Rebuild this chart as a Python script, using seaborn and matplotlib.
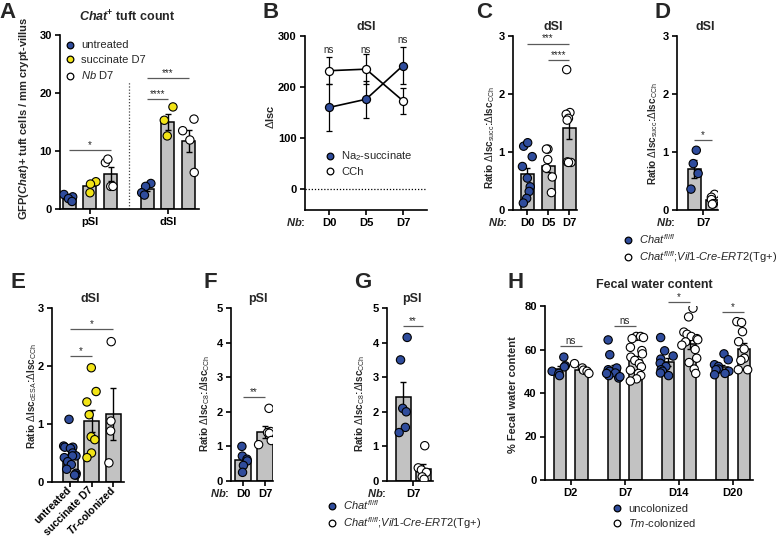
import numpy as np
import pandas as pd
import seaborn as sns
import matplotlib.pyplot as plt
from matplotlib.lines import Line2D

sns.set_theme(style="ticks")
plt.rcParams.update({
    "font.family": ["Liberation Sans", "DejaVu Sans"],
    "font.weight": "bold",
    "font.size": 8,
    "mathtext.fontset": "custom",
    "mathtext.rm": "Liberation Sans:normal",
    "mathtext.it": "Liberation Sans:italic:normal",
    "mathtext.bf": "Liberation Sans:bold",
    "mathtext.bfit": "Liberation Sans:italic:bold",
    "axes.linewidth": 1.2,
    "axes.edgecolor": "black",
    "xtick.color": "black", "ytick.color": "black",
    "xtick.major.width": 1.2, "ytick.major.width": 1.2,
    "xtick.major.size": 3.5, "ytick.major.size": 3.5,
    "xtick.major.pad": 2.5, "ytick.major.pad": 2.5,
    "xtick.labelsize": 8, "ytick.labelsize": 8,
})
np.random.seed(7)  # reproducible strip jitter

BLUE = "#2f4c9c"
YELLOW = "#f2e416"
WHITE = "#ffffff"
GRAY = "#c2c2c2"
PT = 6.0

# ===== data =====
# A  Chat+ tuft count
a_regions = ["pSI", "dSI"]
a_groups = ["untreated", "succinate D7", "Nb D7"]
a_labels = ["untreated", "succinate D7", r"$\mathit{Nb}$ D7"]
a_mean_psi = [1.7, 3.9, 6.0]
a_mean_dsi = [3.5, 15.0, 11.7]
a_sem_psi = [0.25, 0.55, 1.25]
a_sem_dsi = [0.45, 1.45, 1.95]
a_pts_psi = {"untreated": [2.5, 2.1, 1.8, 1.3], "succinate D7": [4.7, 4.3, 2.8],
             "Nb D7": [8.0, 8.6, 3.9, 3.9]}
a_pts_dsi = {"untreated": [4.4, 3.9, 2.8, 2.4], "succinate D7": [17.6, 15.3, 12.6],
             "Nb D7": [15.5, 13.5, 11.9, 6.3]}

# B  dSI delta Isc
b_days = ["D0", "D5", "D7"]
b_succ = [160, 176, 242]
b_succ_sem = [46, 36, 37]
b_cch = [232, 235, 173]
b_cch_sem = [27, 29, 25]

# C  dSI ratio succ:CCh
c_days = ["D0", "D5", "D7"]
c_mean = [0.62, 0.76, 1.42]
c_sem = [0.11, 0.11, 0.20]
c_pts = {"D0": [1.10, 1.16, 0.92, 0.75, 0.55, 0.40, 0.32, 0.20, 0.12],
         "D5": [1.05, 1.05, 0.87, 0.72, 0.57, 0.30],
         "D7": [2.42, 1.68, 1.65, 1.58, 1.55, 0.82, 0.83, 0.82]}

# D  dSI genotype
geno = [r"$\mathit{Chat}^{\mathit{fl/fl}}$",
        r"$\mathit{Chat}^{\mathit{fl/fl}}$;$\mathit{Vil1}$-$\mathit{Cre}$-$\mathit{ERT2}$(Tg+)"]
d_mean = [0.71, 0.17]
d_sem = [0.15, 0.04]
d_pts = [[1.03, 0.80, 0.63, 0.36], [0.27, 0.22, 0.18, 0.11, 0.10]]

# E  dSI ratio cESA:CCh
e_groups = ["untreated", "succinate D7", "Tr-colonized"]
e_ticks = ["untreated", "succinate D7", r"$\mathbfit{Tr}$-colonized"]
e_mean = [0.42, 1.06, 1.17]
e_sem = [0.07, 0.19, 0.45]
e_pts = {"untreated": [1.08, 0.62, 0.60, 0.60, 0.58, 0.50, 0.45, 0.45, 0.42, 0.35, 0.30, 0.22, 0.15, 0.12, 0.12],
         "succinate D7": [1.97, 1.56, 1.38, 1.16, 0.78, 0.73, 0.50, 0.42],
         "Tr-colonized": [2.42, 1.05, 0.88, 0.33]}

# F  pSI ratio C8:CCh
f_days = ["D0", "D7"]
f_mean = [0.60, 1.42]
f_sem = [0.11, 0.17]
f_pts = {"D0": [1.00, 0.72, 0.63, 0.58, 0.45, 0.25], "D7": [2.10, 1.43, 1.40, 1.38, 1.17, 1.05]}

# G  pSI genotype
g_mean = [2.44, 0.36]
g_sem = [0.42, 0.14]
g_pts = [[4.15, 3.50, 2.10, 2.00, 1.55, 1.40], [1.02, 0.38, 0.32, 0.25, 0.12, 0.05]]

# H  fecal water content
h_days = ["D2", "D7", "D14", "D20"]
h_groups = ["uncolonized", r"$\mathit{Tm}$-colonized"]
h_mean_uncol = [51.0, 51.5, 54.2, 52.0]
h_mean_col = [50.7, 55.4, 62.6, 60.3]
h_sem_uncol = [1.2, 1.6, 1.7, 1.0]
h_sem_col = [0.9, 1.6, 2.2, 2.6]
h_pts_uncol = {"D2": [56.5, 52.5, 52.0, 50.0, 49.0, 48.0],
               "D7": [64.4, 57.6, 51.5, 50.7, 50.0, 49.2, 48.0, 46.9, 47.5, 49.0],
               "D14": [65.5, 59.4, 57.0, 55.6, 53.7, 52.2, 50.7, 50.0, 49.2, 48.0],
               "D20": [58.0, 55.3, 53.0, 52.2, 51.0, 50.7, 50.0, 48.4, 49.0]}
h_pts_col = {"D2": [53.5, 51.5, 50.5, 50.0, 49.0],
             "D7": [66, 66, 65.5, 65, 61, 59.5, 58, 56.5, 55, 53.5, 52, 50.5, 49, 48, 46.5, 45.5],
             "D14": [79, 75, 68, 67, 66, 65, 64.5, 63.5, 62, 60, 56, 54, 51, 49],
             "D20": [72.8, 72.4, 68.2, 63.6, 60.2, 56.0, 55.0, 50.7, 50.7]}

# ===== figure =====
W, H = 780, 541
fig = plt.figure(figsize=(W / 100, H / 100), dpi=100)


def box(l, t, r, b):
    return fig.add_axes([l / W, 1 - b / H, (r - l) / W, (b - t) / H])


def ftext(x, y, s, **kw):
    kw.setdefault("ha", "center")
    kw.setdefault("va", "center")
    kw.setdefault("fontweight", "bold")
    fig.text(x / W, 1 - y / H, s, **kw)


def bars(ax, df, x, order, hue=None, hue_order=None, width=0.8, gap=0.0):
    if hue is None:
        sns.barplot(data=df, x=x, y="mean", order=order, color=GRAY, width=width,
                    errorbar=None, edgecolor="black", linewidth=1.1, ax=ax)
        levels = [None]
    else:
        sns.barplot(data=df, x=x, y="mean", hue=hue, order=order, hue_order=hue_order,
                    palette={h: GRAY for h in hue_order}, width=width, gap=gap,
                    errorbar=None, edgecolor="black", linewidth=1.1, legend=False, ax=ax)
        levels = hue_order
    pos = {}
    for lev, cont in zip(levels, list(ax.containers)):
        for cat, bar in zip(order, cont):
            pos[(cat, lev)] = bar.get_x() + bar.get_width() / 2
    for (cat, lev), xc in pos.items():
        sel = df[df[x] == cat] if lev is None else df[(df[x] == cat) & (df[hue] == lev)]
        ax.errorbar(xc, sel["mean"].iloc[0], yerr=sel["sem"].iloc[0], fmt="none",
                    ecolor="black", elinewidth=1.0, capsize=2.3, capthick=1.0, zorder=2)
    return pos


def points(ax, df, x, order, hue, hue_order, palette, dodge, jitter):
    sns.stripplot(data=df, x=x, y="value", hue=hue, order=order, hue_order=hue_order,
                  palette=palette, dodge=dodge, jitter=jitter, size=PT, edgecolor="black",
                  linewidth=0.8, legend=False, ax=ax, zorder=3)


def finish(ax, xlim, ylim, yticks):
    sns.despine(ax=ax)
    ax.set_xlim(*xlim)
    ax.set_ylim(*ylim)
    ax.set_yticks(yticks)
    ax.set_xlabel("")
    ax.set_ylabel("")
    ax.tick_params(axis="x", length=3.5)


def sig(ax, x1, x2, y, label, dy=0.0):
    ax.plot([x1, x2], [y, y], color="#5a5a5a", lw=0.9, solid_capstyle="butt", clip_on=False)
    ax.text((x1 + x2) / 2, y + dy, label, ha="center", va="bottom", fontsize=7,
            fontweight="normal", clip_on=False)


def legend(handles_spec, x, y, spacing=0.35):
    hs = [Line2D([0], [0], marker="o", ls="none", markerfacecolor=c, markeredgecolor="black",
                 markeredgewidth=0.9, markersize=4.8) for c, _ in handles_spec]
    fig.legend(hs, [lab for _, lab in handles_spec], loc="upper left",
               bbox_to_anchor=(x / W, 1 - y / H), frameon=False, borderpad=0, borderaxespad=0,
               handlelength=0.8, handletextpad=0.6, labelspacing=spacing,
               prop={"size": 8, "weight": "normal"})


def long_points(d, key_name, hue_name=None, hue_val=None):
    rows = []
    for k, vals in d.items():
        for v in vals:
            r = {key_name: k, "value": v}
            if hue_name:
                r[hue_name] = hue_val
            rows.append(r)
    return rows


RATIO_FS = 7.2

# ---------- A ----------
axA = box(60, 35, 199, 209)
dfA = pd.DataFrame(
    [{"region": "pSI", "group": g, "mean": m, "sem": s} for g, m, s in zip(a_groups, a_mean_psi, a_sem_psi)]
    + [{"region": "dSI", "group": g, "mean": m, "sem": s} for g, m, s in zip(a_groups, a_mean_dsi, a_sem_dsi)])
ptsA = pd.DataFrame(
    [{"region": "pSI", "group": g, "value": v} for g, vals in a_pts_psi.items() for v in vals]
    + [{"region": "dSI", "group": g, "value": v} for g, vals in a_pts_dsi.items() for v in vals])
A_PAL = dict(zip(a_groups, [BLUE, YELLOW, WHITE]))
posA = bars(axA, dfA, "region", a_regions, "group", a_groups, width=0.8, gap=0.375)
points(axA, ptsA, "region", a_regions, "group", a_groups, A_PAL, True, 0.24)
finish(axA, (-0.385, 1.40), (0, 30), [0, 10, 20, 30])
axA.plot([0.5, 0.5], [0, 21.9], ls=(0, (1, 1.5)), color="#444444", lw=0.9)
sig(axA, posA[("pSI", "untreated")], posA[("pSI", "Nb D7")], 10.2, "*")
sig(axA, posA[("dSI", "untreated")], posA[("dSI", "succinate D7")], 19.0, "****")
sig(axA, posA[("dSI", "untreated")], posA[("dSI", "Nb D7")], 22.5, "***")
legend(list(zip([BLUE, YELLOW, WHITE], a_labels)), 65.5, 40.5, 0.4)
ftext(127, 17, r"$\mathbfit{Chat}^{\mathbf{+}}$ tuft count", fontsize=9)
ftext(24, 118, r"GFP($\mathbfit{Chat}$)+ tuft cells / mm crypt-villus", rotation=90, fontsize=8)

# ---------- B ----------
axB = box(305, 36, 427, 210)
for vals, sems, fc in [(b_succ, b_succ_sem, BLUE), (b_cch, b_cch_sem, WHITE)]:
    sns.pointplot(x=b_days, y=vals, color="black", markers="o", linestyles="-",
                  errorbar=None, ax=axB)
    ln = axB.lines[-1]
    ln.set_markerfacecolor(fc)
    ln.set_markeredgecolor("black")
    ln.set_markeredgewidth(0.9)
    ln.set_markersize(5.8)
    ln.set_linewidth(1.2)
    ln.set_zorder(3)
    axB.errorbar(ln.get_xdata(), vals, yerr=sems, fmt="none", ecolor="black",
                 elinewidth=0.9, capsize=2.3, capthick=0.9, zorder=2)
finish(axB, (-0.65, 2.65), (-41, 300), [0, 100, 200, 300])
axB.axhline(0, ls=(0, (1, 1.5)), color="black", lw=0.9)
for i, y in enumerate([272, 272, 292]):
    axB.text(i, y, "ns", ha="center", va="center", fontsize=7, fontweight="normal")
legend([(BLUE, r"Na$_2$-succinate"), (WHITE, "CCh")], 325.5, 149.5, 0.35)
ftext(366, 27, "dSI", fontsize=9)
ftext(270, 117, r"$\Delta$Isc", rotation=90, fontsize=8)
ftext(306, 222, r"$\mathbfit{Nb}$:", ha="right", fontsize=8)

# ---------- C ----------
axC = box(513, 36, 577, 210)
dfC = pd.DataFrame({"day": c_days, "mean": c_mean, "sem": c_sem})
ptsC = pd.DataFrame(long_points(c_pts, "day"))
posC = bars(axC, dfC, "day", c_days, width=0.62)
points(axC, ptsC, "day", c_days, "day", c_days, dict(zip(c_days, [BLUE, WHITE, WHITE])), False, 0.3)
finish(axC, (-0.67, 2.38), (0, 3), [0, 1, 2, 3])
sig(axC, posC[("D0", None)], posC[("D7", None)], 2.87, "***")
sig(axC, posC[("D5", None)], posC[("D7", None)], 2.59, "****")
ftext(553, 27, "dSI", fontsize=9)
ftext(490, 138, r"Ratio $\Delta$Isc$_{\mathrm{succ}}$:$\Delta$Isc$_{\mathrm{CCh}}$", rotation=90, fontsize=RATIO_FS)
ftext(508, 222, r"$\mathbfit{Nb}$:", ha="right", fontsize=8)

# ---------- D ----------
axD = box(677, 36, 718, 210)
dfD = pd.DataFrame({"day": ["D7", "D7"], "geno": geno, "mean": d_mean, "sem": d_sem})
ptsD = pd.DataFrame([{"day": "D7", "geno": g, "value": v} for g, vals in zip(geno, d_pts) for v in vals])
G_PAL = dict(zip(geno, [BLUE, WHITE]))
posD = bars(axD, dfD, "day", ["D7"], "geno", geno, width=0.8, gap=0.275)
points(axD, ptsD, "day", ["D7"], "geno", geno, G_PAL, True, 0.22)
finish(axD, (-0.58, 0.33), (0, 3), [0, 1, 2, 3])
sig(axD, posD[("D7", geno[0])], posD[("D7", geno[1])], 1.2, "*")
legend(list(zip([BLUE, WHITE], geno)), 623.5, 232, 0.3)
ftext(705, 27, "dSI", fontsize=9)
ftext(653, 134, r"Ratio $\Delta$Isc$_{\mathrm{succ}}$:$\Delta$Isc$_{\mathrm{CCh}}$", rotation=90, fontsize=RATIO_FS)
ftext(676, 222, r"$\mathbfit{Nb}$:", ha="right", fontsize=8)

# ---------- E ----------
axE = box(52, 308, 124, 482)
dfE = pd.DataFrame({"group": e_groups, "mean": e_mean, "sem": e_sem})
ptsE = pd.DataFrame(long_points(e_pts, "group"))
posE = bars(axE, dfE, "group", e_groups, width=0.7)
points(axE, ptsE, "group", e_groups, "group", e_groups, dict(zip(e_groups, [BLUE, YELLOW, WHITE])), False, 0.3)
finish(axE, (-0.84, 2.5), (0, 3), [0, 1, 2, 3])
axE.set_xticks(range(len(e_groups)))
axE.set_xticklabels(e_ticks, rotation=45, ha="right", va="center", rotation_mode="anchor", fontsize=7.5)
axE.tick_params(axis="x", pad=1)
sig(axE, posE[("untreated", None)], posE[("succinate D7", None)], 2.17, "*")
sig(axE, posE[("untreated", None)], posE[("Tr-colonized", None)], 2.64, "*")
ftext(90, 299, "dSI", fontsize=9)
ftext(32, 396, r"Ratio $\Delta$Isc$_{\mathrm{cESA}}$:$\Delta$Isc$_{\mathrm{CCh}}$", rotation=90, fontsize=RATIO_FS)

# ---------- F ----------
axF = box(231, 308, 273, 481)
dfF = pd.DataFrame({"day": f_days, "mean": f_mean, "sem": f_sem})
ptsF = pd.DataFrame(long_points(f_pts, "day"))
posF = bars(axF, dfF, "day", f_days, width=0.72)
points(axF, ptsF, "day", f_days, "day", f_days, dict(zip(f_days, [BLUE, WHITE])), False, 0.32)
finish(axF, (-0.55, 1.36), (0, 5), [0, 1, 2, 3, 4, 5])
sig(axF, posF[("D0", None)], posF[("D7", None)], 2.43, "**")
ftext(258, 299, "pSI", fontsize=9)
ftext(205, 403, r"Ratio $\Delta$Isc$_{\mathrm{C8}}$:$\Delta$Isc$_{\mathrm{CCh}}$", rotation=90, fontsize=RATIO_FS)
ftext(230, 493, r"$\mathbfit{Nb}$:", ha="right", fontsize=8)

# ---------- G ----------
axG = box(387, 308, 433, 481)
dfG = pd.DataFrame({"day": ["D7", "D7"], "geno": geno, "mean": g_mean, "sem": g_sem})
ptsG = pd.DataFrame([{"day": "D7", "geno": g, "value": v} for g, vals in zip(geno, g_pts) for v in vals])
posG = bars(axG, dfG, "day", ["D7"], "geno", geno, width=0.8, gap=0.25)
points(axG, ptsG, "day", ["D7"], "geno", geno, G_PAL, True, 0.22)
finish(axG, (-0.52, 0.40), (0, 5), [0, 1, 2, 3, 4, 5])
sig(axG, posG[("D7", geno[0])], posG[("D7", geno[1])], 4.47, "**")
legend(list(zip([BLUE, WHITE], geno)), 327.5, 498, 0.3)
ftext(412, 299, "pSI", fontsize=9)
ftext(360, 403, r"Ratio $\Delta$Isc$_{\mathrm{C8}}$:$\Delta$Isc$_{\mathrm{CCh}}$", rotation=90, fontsize=RATIO_FS)
ftext(387, 493, r"$\mathbfit{Nb}$:", ha="right", fontsize=8)

# ---------- H ----------
axH = box(545, 306, 753, 480)
dfH = pd.DataFrame(
    [{"day": d, "grp": h_groups[0], "mean": m, "sem": s} for d, m, s in zip(h_days, h_mean_uncol, h_sem_uncol)]
    + [{"day": d, "grp": h_groups[1], "mean": m, "sem": s} for d, m, s in zip(h_days, h_mean_col, h_sem_col)])
ptsH = pd.DataFrame(long_points(h_pts_uncol, "day", "grp", h_groups[0])
                    + long_points(h_pts_col, "day", "grp", h_groups[1]))
posH = bars(axH, dfH, "day", h_days, "grp", h_groups, width=0.8, gap=0.42)
points(axH, ptsH, "day", h_days, "grp", h_groups, dict(zip(h_groups, [BLUE, WHITE])), True, 0.3)
finish(axH, (-0.48, 3.37), (0, 80), [0, 20, 40, 60, 80])
for d, y, lab in zip(h_days, [61.7, 70.8, 82.0, 77.4], ["ns", "ns", "*", "*"]):
    sig(axH, posH[(d, h_groups[0])], posH[(d, h_groups[1])], y, lab)
legend(list(zip([BLUE, WHITE], h_groups)), 612.5, 503.5, 0.3)
ftext(654, 285, "Fecal water content", fontsize=9)
ftext(513, 395, "% Fecal water content", rotation=90, fontsize=8)

# panel letters
for lab, x, y in [("A", 8, 12), ("B", 271, 12), ("C", 484, 12), ("D", 662, 12),
                  ("E", 18, 283), ("F", 210, 283), ("G", 363, 283), ("H", 516, 283)]:
    ftext(x, y, lab, fontsize=16)

fig.savefig("out.png", dpi=100)
